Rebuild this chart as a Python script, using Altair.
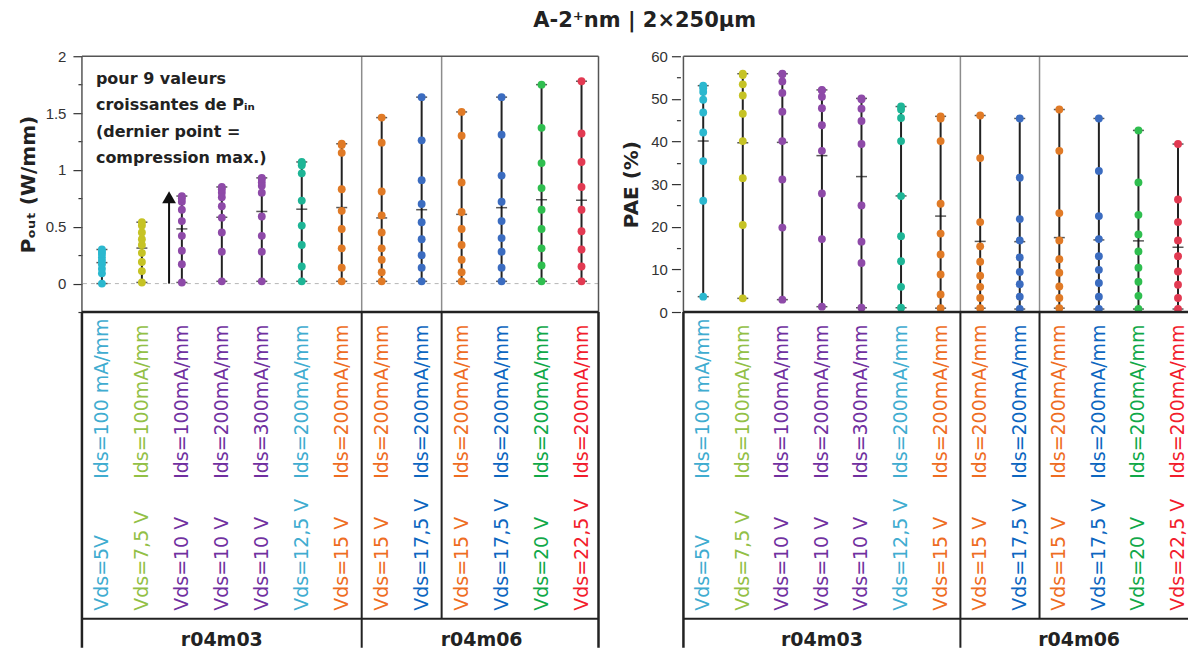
import altair as alt
import pandas as pd

# ---------------- data ----------------
cols = list(range(1, 14))
ids_labels = ["Ids=100 mA/mm", "Ids=100mA/mm", "Ids=100mA/mm", "Ids=200mA/mm",
              "Ids=300mA/mm", "Ids=200mA/mm", "Ids=200mA/mm", "Ids=200mA/mm",
              "Ids=200mA/mm", "Ids=200mA/mm", "Ids=200mA/mm", "Ids=200mA/mm",
              "Ids=200mA/mm"]
vds_labels = ["Vds=5V", "Vds=7,5 V", "Vds=10 V", "Vds=10 V", "Vds=10 V",
              "Vds=12,5 V", "Vds=15 V", "Vds=15 V", "Vds=17,5 V", "Vds=15 V",
              "Vds=17,5 V", "Vds=20 V", "Vds=22,5 V"]
wafers = ["r04m03"] * 7 + ["r04m06"] * 6
blocks = ["A"] * 7 + ["B"] * 2 + ["C"] * 4

point_colors = ["#2bb8cf", "#c6c325", "#8e4aa8", "#8e4aa8", "#8e4aa8", "#1eb596",
                "#e07a26", "#e07a26", "#3b6cc0", "#e07a26", "#3b6cc0", "#2fbe4f",
                "#e23a52"]
label_colors = ["#40acd0", "#92c046", "#7030a0", "#7030a0", "#7030a0", "#40acd0",
                "#ee6c22", "#ee6c22", "#0c66c0", "#ee6c22", "#0c66c0", "#10a848",
                "#f21c2c"]

pout = [
    [0.00, 0.09, 0.13, 0.17, 0.20, 0.23, 0.26, 0.28, 0.30],
    [0.01, 0.11, 0.19, 0.27, 0.34, 0.39, 0.45, 0.51, 0.54],
    [0.01, 0.17, 0.29, 0.42, 0.55, 0.65, 0.72, 0.75, 0.77],
    [0.02, 0.28, 0.45, 0.58, 0.68, 0.76, 0.80, 0.83, 0.85],
    [0.02, 0.28, 0.42, 0.59, 0.80, 0.86, 0.89, 0.92, 0.93],
    [0.02, 0.15, 0.34, 0.51, 0.73, 0.97, 1.04, 1.06, 1.07],
    [0.02, 0.14, 0.31, 0.48, 0.64, 0.83, 1.15, 1.22, 1.23],
    [0.02, 0.10, 0.21, 0.31, 0.45, 0.60, 0.81, 1.24, 1.46],
    [0.02, 0.14, 0.25, 0.39, 0.54, 0.70, 0.91, 1.26, 1.64],
    [0.02, 0.10, 0.21, 0.34, 0.48, 0.63, 0.89, 1.30, 1.51],
    [0.02, 0.14, 0.28, 0.40, 0.55, 0.72, 0.95, 1.31, 1.64],
    [0.02, 0.16, 0.31, 0.48, 0.65, 0.84, 1.06, 1.37, 1.75],
    [0.02, 0.15, 0.30, 0.46, 0.65, 0.85, 1.07, 1.32, 1.78],
]
pae = [
    [3.6, 26.1, 35.4, 42.1, 46.8, 49.8, 51.6, 52.5, 53.1],
    [3.2, 20.4, 31.4, 40.1, 46.5, 50.8, 53.4, 55.6, 55.9],
    [2.9, 19.8, 31.1, 40.1, 47.0, 51.4, 54.1, 55.8, 55.9],
    [1.25, 17.1, 27.8, 37.8, 43.8, 47.8, 50.5, 52.0, 52.1],
    [1.0, 11.5, 16.5, 25.0, 39.4, 44.8, 47.7, 49.9, 50.1],
    [1.0, 5.9, 11.9, 17.8, 27.2, 40.1, 45.5, 47.5, 48.2],
    [0.9, 4.1, 8.8, 13.5, 18.4, 25.4, 40.1, 45.4, 45.9],
    [0.9, 3.3, 5.9, 8.5, 11.8, 15.4, 21.1, 36.1, 46.1],
    [0.7, 3.6, 6.5, 9.4, 12.8, 16.8, 21.8, 31.5, 45.4],
    [0.9, 3.3, 6.0, 9.2, 12.4, 16.8, 23.2, 37.8, 47.5],
    [0.7, 3.6, 6.8, 9.9, 13.1, 17.1, 22.5, 33.1, 45.4],
    [0.7, 3.8, 7.1, 10.4, 14.2, 18.2, 22.8, 30.4, 42.6],
    [0.7, 3.3, 6.4, 9.5, 13.1, 16.8, 21.1, 26.4, 39.4],
]
pout_ticks = [-0.25, 0, 0.25, 0.5, 0.75, 1, 1.25, 1.5, 1.75, 2]
pout_major = [0, 0.5, 1, 1.5, 2]
pae_ticks = [0, 5, 10, 15, 20, 25, 30, 35, 40, 45, 50, 55, 60]
pae_major = [0, 10, 20, 30, 40, 50, 60]

title_text = "A-2⁺nm | 2×250µm"
annot_lines = ["pour 9 valeurs", "croissantes de Pᵢₙ", "(dernier point =",
               "compression max.)"]

# ---------------- layout constants ----------------
WL, WR = 517, 505      # plot widths (right panel ends at the page edge)
PXL, PXR = 40, 39.6    # pixels per column in each panel
PH = 256               # plot height
TH = 336               # table height (bottom cut at the page edge)
LZ = 307               # height of the label zone of the table
FONT = "DejaVu Sans"


def xscale(w, px):
    return alt.Scale(domain=[0.5, 0.5 + w / px], nice=False, zero=False)


labels_df = pd.DataFrame({"col": cols, "ids": ids_labels, "vds": vds_labels,
                          "wafer": wafers})
block_sep = pd.DataFrame({"x": [c + 0.5 for c in cols[:-1]
                                if blocks[c - 1] != blocks[c]]})
wafer_sep = pd.DataFrame({"x": [c + 0.5 for c in cols[:-1]
                                if wafers[c - 1] != wafers[c]]})

pt_color = alt.Color("col:N", scale=alt.Scale(domain=cols, range=point_colors),
                     legend=None)
lb_color = alt.Color("col:N", scale=alt.Scale(domain=cols, range=label_colors),
                     legend=None)


def long_df(series):
    rows = []
    for c, vals in zip(cols, series):
        for v in vals:
            rows.append({"col": c, "v": v})
    return pd.DataFrame(rows)


def frame(sides, w, h, color, width):
    out = []
    one = pd.DataFrame({"k": [0]})
    spec = {"top": dict(x=alt.value(0), x2=alt.value(w), y=alt.value(0)),
            "bottom": dict(x=alt.value(0), x2=alt.value(w), y=alt.value(h)),
            "left": dict(x=alt.value(0), y=alt.value(0), y2=alt.value(h)),
            "right": dict(x=alt.value(w), y=alt.value(0), y2=alt.value(h))}
    for s in sides:
        out.append(alt.Chart(one).mark_rule(color=color, strokeWidth=width)
                   .encode(**spec[s]))
    return out


def plot_panel(series, w, px, domain, ticks, majors, title, zero_line, annot,
               axis_offset, label_pad, title_pad, sides):
    XSC = xscale(w, px)
    df = long_df(series)
    yscale = alt.Scale(domain=domain, nice=False, zero=False)
    major_list = "[" + ",".join(repr(float(m)) for m in majors) + "]"
    is_major = f"indexof({major_list}, datum.value) >= 0"
    yaxis = alt.Axis(
        values=ticks,
        labelExpr=f"{is_major} ? format(datum.value, '~g') : ''",
        tickSize={"condition": {"test": is_major, "value": 9}, "value": 4},
        tickColor="#333", tickWidth=1.2, domain=False, grid=False,
        labelFont="Liberation Sans", labelFontSize=15, labelColor="#333",
        labelPadding=label_pad, offset=axis_offset, labelOverlap=False,
        title=title, titleFont=FONT, titleFontSize=20, titleFontWeight="bold",
        titleColor="#222", titlePadding=title_pad)

    def Y(field):
        return alt.Y(field, scale=yscale, axis=yaxis)

    x = alt.X("col:Q", scale=XSC, axis=None)
    base = alt.Chart(df)
    seps = alt.Chart(block_sep).mark_rule(color="#8c8c8c", strokeWidth=1.5).encode(
        x=alt.X("x:Q", scale=XSC, axis=None))
    rule = base.mark_rule(color="#222", strokeWidth=2).encode(
        x=x, y=Y("min(v):Q"), y2="max(v):Q")
    ticks_l = base.transform_aggregate(
        mn="min(v)", mx="max(v)", avg="mean(v)", groupby=["col"]
    ).transform_fold(["mn", "mx", "avg"], as_=["stat", "sv"]).mark_tick(
        orient="horizontal", size=11, thickness=1.5, color="#111").encode(
        x=x, y=Y("sv:Q"))
    pts = base.mark_circle(size=62, opacity=1).encode(
        x=x, y=Y("v:Q"), color=pt_color)
    layers = [rule, seps]
    if zero_line:
        layers.append(alt.Chart(pd.DataFrame({"ref": [0.0]})).mark_rule(
            color="#b5b5b5", strokeDash=[4, 4], strokeWidth=1).encode(
            y=Y("ref:Q")))
    layers += [ticks_l, pts]
    if annot:
        # arrow: 9 increasing Pin values
        layers.append(alt.Chart(pd.DataFrame({"ax": [2.68], "a0": [0.0], "a1": [0.72]}))
                      .mark_rule(color="#111", strokeWidth=2).encode(
            x=alt.X("ax:Q", scale=XSC, axis=None), y=Y("a0:Q"), y2="a1:Q"))
        layers.append(alt.Chart(pd.DataFrame({"ax": [2.68], "a1": [0.76]}))
                      .mark_point(shape="triangle-up", size=190, filled=True,
                                  color="#111", opacity=1).encode(
            x=alt.X("ax:Q", scale=XSC, axis=None), y=Y("a1:Q")))
        layers.append(alt.Chart(pd.DataFrame({"tx": [0.85], "ty": [1.87]}))
                      .mark_text(text=annot_lines, align="left", baseline="top",
                                 font=FONT, fontSize=16, fontWeight="bold",
                                 lineHeight=26.5, color="#222").encode(
            x=alt.X("tx:Q", scale=XSC, axis=None), y=Y("ty:Q")))
    layers += frame(sides, w, PH, "#555", 1.5)
    return alt.layer(*layers).properties(
        width=w, height=PH, view=alt.ViewBackground(strokeWidth=0))


def table_panel(w, px, sides):
    XSC = xscale(w, px)
    lb = alt.Chart(labels_df)
    xq = alt.X("col:Q", scale=XSC, axis=None)
    ids = lb.mark_text(angle=270, align="left", baseline="middle", font=FONT,
                       fontSize=19, clip=True).encode(
        x=xq, y=alt.value(167), text="ids:N", color=lb_color)
    vds = lb.mark_text(angle=270, align="left", baseline="middle", font=FONT,
                       fontSize=19, clip=True).encode(
        x=xq, y=alt.value(299), text="vds:N", color=lb_color)
    grp = lb.mark_text(font=FONT, fontSize=19, fontWeight="bold", color="#222",
                       baseline="middle", clip=True).encode(
        x=alt.X("mean(col):Q", scale=XSC, axis=None), y=alt.value(328),
        text="wafer:N")
    hline = alt.Chart(pd.DataFrame({"k": [0]})).mark_rule(
        color="#222", strokeWidth=2).encode(
        x=alt.value(0), x2=alt.value(w), y=alt.value(LZ))
    vfull = alt.Chart(wafer_sep).mark_rule(color="#222", strokeWidth=2).encode(
        x=alt.X("x:Q", scale=XSC, axis=None))
    vpart = alt.Chart(block_sep[~block_sep["x"].isin(wafer_sep["x"])]).mark_rule(
        color="#222", strokeWidth=2).encode(
        x=alt.X("x:Q", scale=XSC, axis=None), y=alt.value(0), y2=alt.value(LZ))
    layers = [ids, vds, grp, hline, vfull, vpart] + frame(sides, w, TH, "#222", 2.5)
    return alt.layer(*layers).properties(
        width=w, height=TH, view=alt.ViewBackground(strokeWidth=0))


left_plot = plot_panel(pout, WL, PXL, [-0.25, 2], pout_ticks, pout_major,
                       "Pₒᵤₜ (W/mm)", True, True, 0, 7, 7,
                       ["top", "left", "right", "bottom"])
right_plot = plot_panel(pae, WR, PXR, [0, 60], pae_ticks, pae_major, "PAE (%)",
                        False, False, 3, 4, 9, ["top", "left", "bottom"])

chart = alt.concat(
    left_plot, right_plot,
    table_panel(WL, PXL, ["top", "left", "right"]),
    table_panel(WR, PXR, ["top", "left"]),
    columns=2, spacing={"row": 0, "column": 85}, bounds="flush",
).resolve_scale(x="independent", y="independent", color="independent").properties(
    title=alt.TitleParams(title_text, font=FONT, fontSize=21, fontWeight="bold",
                          color="#222", anchor="middle", dx=41, offset=18),
    padding={"left": 10, "top": 2, "right": 0, "bottom": 0},
).configure(font=FONT)

chart.save("out.html", embed_options={"renderer": "svg", "actions": False})
